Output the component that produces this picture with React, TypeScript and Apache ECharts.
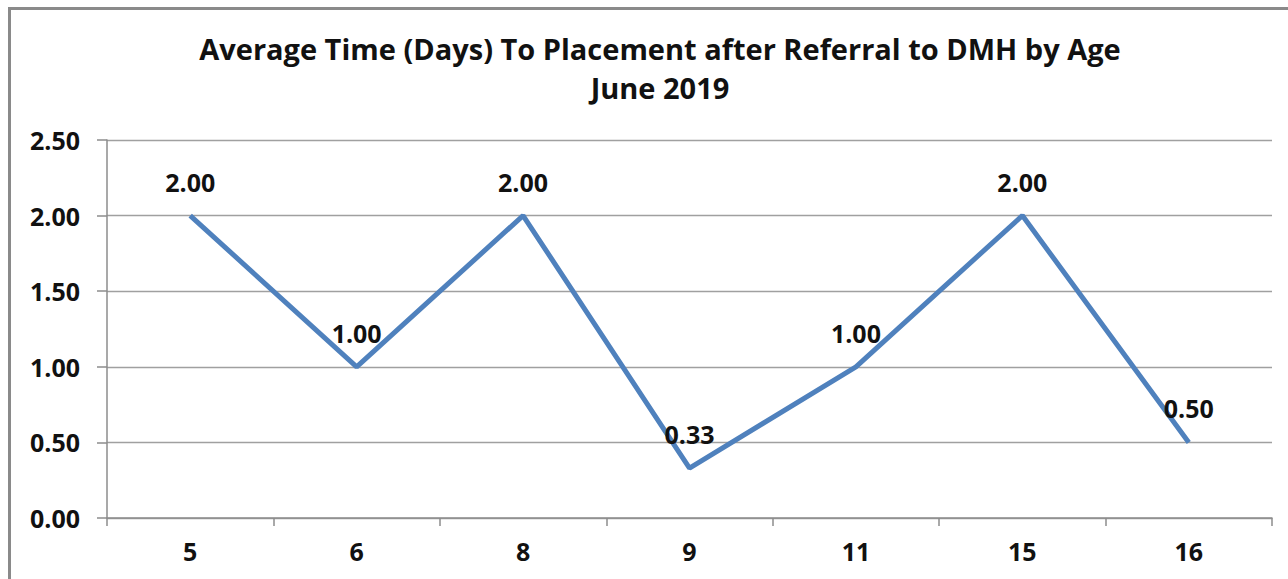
import React, { useEffect, useRef } from "react";
import * as echarts from "echarts";

const categories = ["5", "6", "8", "9", "11", "15", "16"];
const values = [2.0, 1.0, 2.0, 0.33, 1.0, 2.0, 0.5];
const titleLines = ["Average Time (Days) To Placement after Referral to DMH by Age", "June 2019"];

export default function App() {
  const ref = useRef<HTMLDivElement>(null);
  useEffect(() => {
    if (!ref.current) return;
    const chart = echarts.init(ref.current, null, { renderer: "svg" });
    const font = "'Open Sans', 'Noto Sans', sans-serif";
    chart.setOption({
      animation: false,
      backgroundColor: "#ffffff",
      title: {
        text: titleLines.join("\n"),
        left: 655,
        textAlign: "center",
        top: 24,
        textStyle: {
          fontFamily: font,
          fontWeight: "bold",
          fontSize: 29,
          lineHeight: 39,
          color: "#111",
        },
      },
      graphic: [
        {
          type: "rect",
          shape: { x: 9.5, y: 8.5, width: 1300, height: 600 },
          style: { fill: "none", stroke: "#8a8a8a", lineWidth: 3 },
          silent: true,
        },
      ],
      grid: { left: 107, right: 16, top: 140, bottom: 61 },
      xAxis: {
        type: "category",
        data: categories,
        boundaryGap: true,
        axisLine: { lineStyle: { color: "#8c8c8c", width: 1.5 } },
        axisTick: { show: true, length: 8, lineStyle: { color: "#8c8c8c", width: 1.5 } },
        axisLabel: {
          fontFamily: font,
          fontWeight: "bold",
          fontSize: 25,
          color: "#111",
          margin: 20,
        },
      },
      yAxis: {
        type: "value",
        min: 0,
        max: 2.5,
        interval: 0.5,
        axisLine: { show: true, lineStyle: { color: "#8c8c8c", width: 1.5 } },
        axisTick: { show: true, length: 10, lineStyle: { color: "#8c8c8c", width: 1.5 } },
        splitLine: { lineStyle: { color: "#a0a0a0", width: 1.3 } },
        axisLabel: {
          formatter: (v: number) => v.toFixed(2),
          fontFamily: font,
          fontWeight: "bold",
          fontSize: 25,
          color: "#111",
          margin: 27,
        },
      },
      series: [
        {
          type: "line",
          data: values,
          symbol: "circle",
          symbolSize: 1,
          showSymbol: true,
          itemStyle: { color: "rgba(0,0,0,0)" },
          lineStyle: { color: "#4F81BD", width: 5 },
          label: {
            show: true,
            position: "top",
            distance: 21,
            formatter: (p: any) => Number(p.value).toFixed(2),
            fontFamily: font,
            fontWeight: "bold",
            fontSize: 25,
            color: "#111",
          },
        },
      ],
    });
    return () => chart.dispose();
  }, []);
  return (
    <div
      ref={ref}
      style={{ position: "fixed", left: 0, top: 0, width: 1288, height: 579 }}
    />
  );
}
